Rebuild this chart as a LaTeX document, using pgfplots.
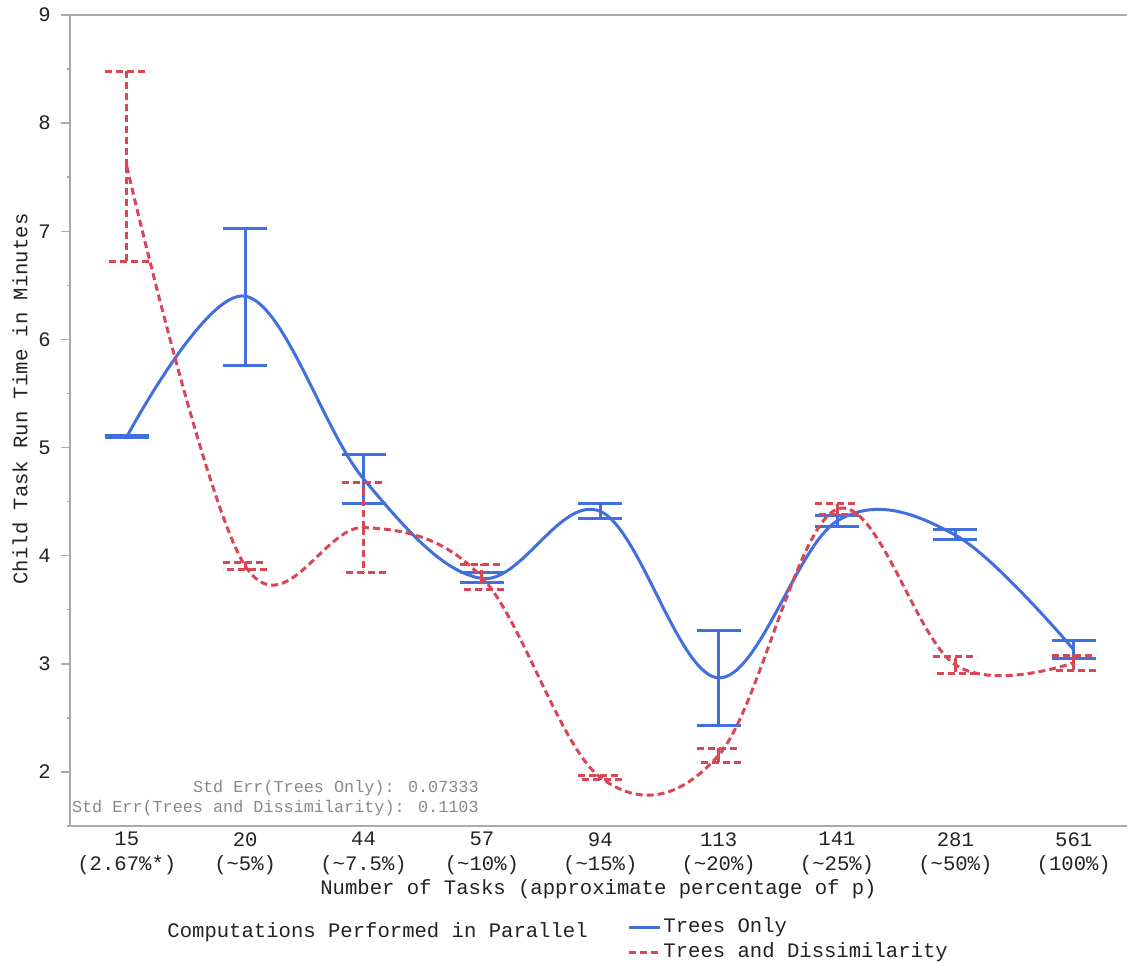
\documentclass[border=0pt]{standalone}
\usepackage{pgfplots}
\usepackage{pgfplotstable}
\pgfplotsset{compat=1.18}
\usepackage{fontspec}
\setmainfont{Liberation Mono}
\definecolor{tblue}{RGB}{65,111,222}
\definecolor{tred}{RGB}{217,70,86}
\definecolor{axgray}{RGB}{170,170,170}
\definecolor{txt}{RGB}{34,34,34}
\definecolor{sgray}{RGB}{136,136,136}

\pgfplotstableread{
x y ep em
0 5.10 0.01 0.01
1 6.40 0.63 0.64
2 4.71 0.23 0.23
3 3.79 0.05 0.04
4 4.41 0.07 0.07
5 2.87 0.44 0.44
6 4.32 0.05 0.05
7 4.19 0.05 0.04
8 3.13 0.09 0.08
}\blueT

\pgfplotstableread{
x y ep em
0 7.60 0.88 0.88
1 3.905 0.035 0.035
2 4.26 0.42 0.42
3 3.80 0.12 0.11
4 1.95 0.02 0.02
5 2.155 0.065 0.065
6 4.43 0.05 0.05
7 2.99 0.08 0.08
8 3.01 0.07 0.07
}\redT

\begin{document}
\fontsize{10.3pt}{12pt}\selectfont
\begin{tikzpicture}
\useasboundingbox (-35pt,-68pt) rectangle (528.5pt,413pt);
\begin{axis}[
  at={(0,0)}, anchor=south west, scale only axis,
  width=528.5pt, height=405.5pt,
  xmin=-0.48, xmax=8.45, ymin=1.5, ymax=9,
  axis x line*=box, axis y line*=left,
  axis line style={axgray, line width=0.75pt},
  xtick={0,...,8},
  xticklabels={{15\\(2.67\%*)},{20\\(\textasciitilde5\%)},{44\\(\textasciitilde7.5\%)},{57\\(\textasciitilde10\%)},{94\\(\textasciitilde15\%)},{113\\(\textasciitilde20\%)},{141\\(\textasciitilde25\%)},{281\\(\textasciitilde50\%)},{561\\(100\%)}},
  xtick style={draw=none},
  ytick={2,...,9},
  minor ytick={1.5,2.5,...,8.5},
  tick align=outside, major tick length=4.5pt, minor tick length=1.5pt,
  ytick style={axgray, line width=0.75pt},
  minor y tick style={axgray, line width=0.75pt},
  tick label style={text=txt, font=\fontsize{10.3pt}{12.3pt}\selectfont},
  /pgf/number format/assume math mode=true,
  xticklabel style={align=center, yshift=5pt},
  yticklabel style={xshift=-1.5pt},
  xlabel={Number of Tasks (approximate percentage of p)},
  xlabel style={at={(axis description cs:0.5,-0.0775)}, anchor=center, text=txt, font=\fontsize{10.3pt}{12pt}\selectfont},
  ylabel={Child Task Run Time in Minutes},
  ylabel style={at={(axis description cs:-0.0473,0.5265)}, anchor=center, rotate=0, text=txt, font=\fontsize{10.3pt}{12pt}\selectfont},
  legend style={at={(axis description cs:0.527,-0.14)}, anchor=west, draw=none, fill=none, inner sep=0pt,
    row sep=0.5pt, font=\fontsize{10.3pt}{12pt}\selectfont, text=txt,
    nodes={inner sep=1pt, text height=7.5pt, text depth=2.5pt}},
  legend cell align=left,
  legend image code/.code={\draw[#1] (0pt,0pt) -- (15.5pt,0pt);},
  clip=false,
]
\addplot[tblue, line width=1.5pt, smooth, tension=0.6,
  error bars/.cd, y dir=both, y explicit,
  error bar style={tblue, line width=1.5pt, solid},
  error mark options={tblue, line width=1.5pt, mark size=11pt, rotate=90, solid}]
  table[x=x, y=y, y error plus=ep, y error minus=em] {\blueT};
\addlegendentry{Trees Only}
\addplot[tred, line width=1.5pt, smooth, tension=0.6, dash pattern=on 3.5pt off 2pt,
  error bars/.cd, y dir=both, y explicit,
  error bar style={tred, line width=1.5pt, dash pattern=on 3.5pt off 2pt},
  error mark options={tred, line width=1.5pt, mark size=11pt, rotate=90, dash pattern=on 3.5pt off 2pt}]
  table[x=x, y=y, y error plus=ep, y error minus=em] {\redT};
\addlegendentry{Trees and Dissimilarity}
\node[anchor=east, align=right, inner sep=0pt, text=sgray, font=\fontsize{8.4pt}{10pt}\selectfont]
  at (axis description cs:0.387,0.0345) {Std Err(Trees Only): 0.07333\\Std Err(Trees and Dissimilarity): 0.1103};
\node[anchor=west, inner sep=0pt, text=txt, font=\fontsize{10.3pt}{12pt}\selectfont]
  at (axis description cs:0.0918,-0.1307) {Computations Performed in Parallel};
\end{axis}
\end{tikzpicture}
\end{document}
